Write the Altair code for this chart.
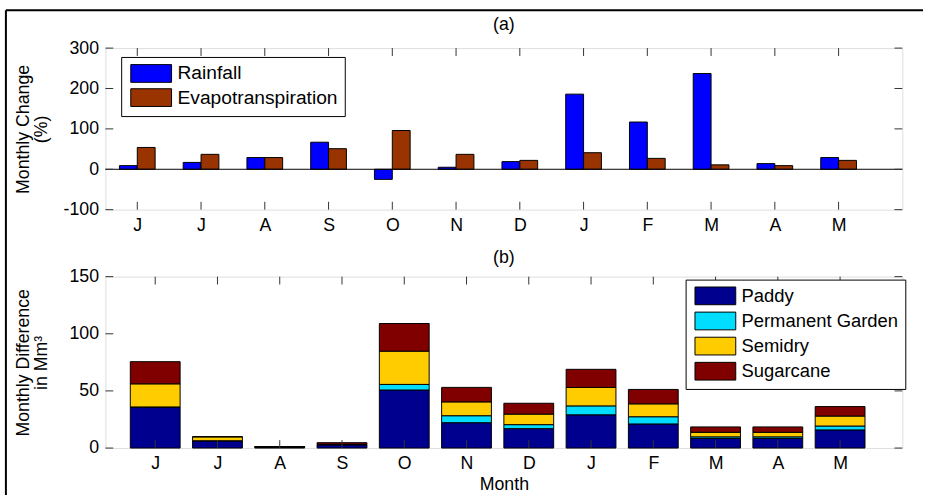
import altair as alt
import pandas as pd

# ---------------- data ----------------
months = ["J", "J", "A", "S", "O", "N", "D", "J", "F", "M", "A", "M"]

rainfall = [9, 17, 29, 67, -25, 5, 19, 186, 117, 237, 14, 29]
evapotranspiration = [54, 37, 29, 51, 96, 37, 22, 41, 27, 11, 9, 22]

paddy = [35.5, 6.3, 0.9, 2.9, 50.8, 22.2, 17.0, 29.1, 21.1, 8.4, 8.4, 15.9]
permanent_garden = [0.5, 0.1, 0.1, 0.1, 4.9, 6.1, 3.5, 7.8, 6.3, 1.4, 1.4, 3.4]
semidry = [20.2, 3.4, 0.2, 0.3, 29.1, 12.1, 9.2, 16.2, 11.3, 4.0, 4.0, 8.7]
sugarcane = [19.4, 0.2, 0.1, 1.4, 24.2, 12.7, 9.5, 15.8, 12.6, 4.7, 4.7, 8.3]

top_series = ["Rainfall", "Evapotranspiration"]
top_colors = ["#0000FF", "#993300"]
bottom_series = ["Paddy", "Permanent Garden", "Semidry", "Sugarcane"]
bottom_colors = ["#00008F", "#00DDFF", "#FFCC00", "#800000"]

top_yticks = [-100, 0, 100, 200, 300]
bottom_yticks = [0, 50, 100, 150]
month_ticks = list(range(1, 13))
panel_titles = ["(a)", "(b)"]

# ---------------- tables ----------------
HALF = 0.28
rows = []
for i, (r, e) in enumerate(zip(rainfall, evapotranspiration)):
    p = i + 1
    rows.append({"series": "Rainfall", "x0": p - HALF, "x1": p, "value": r, "base": 0})
    rows.append({"series": "Evapotranspiration", "x0": p, "x1": p + HALF, "value": e, "base": 0})
top_df = pd.DataFrame(rows)

rows = []
for i in range(12):
    p = i + 1
    acc = 0.0
    for name, vals in zip(bottom_series, [paddy, permanent_garden, semidry, sugarcane]):
        v = vals[i]
        rows.append({"series": name, "x0": p - 0.4, "x1": p + 0.4, "y0": acc, "y1": acc + v})
        acc += v
bottom_df = pd.DataFrame(rows)

# ---------------- styling ----------------
FONT = "Liberation Sans"
FS = 18
W = 809
H1 = 164
H2 = 174
TICK = 8
TICK_COLOR = "#333333"
label_expr = "[" + ",".join("'" + m + "'" for m in months) + "][round(datum.value) - 1]"
SWATCH = "M-2.3,-1 L2.3,-1 L2.3,1 L-2.3,1 Z"


def x_axis(title=None):
    kw = dict(values=month_ticks, labelExpr=label_expr, ticks=False, tickSize=0, domain=False,
              grid=False, labelPadding=7, labelFontSize=FS, labelFont=FONT, labelColor="black",
              labelFlush=False, labelOverlap=False, title=title)
    if title:
        kw.update(titleFontSize=FS, titleFont=FONT, titleFontWeight="normal", titleColor="black",
                  titlePadding=3)
    return alt.Axis(**kw)


def y_axis(vals, title, h):
    return alt.Axis(values=vals, ticks=False, tickSize=0, domain=False, grid=False,
                    labelExpr="'' + datum.value",
                    labelPadding=7, labelFontSize=FS, labelFont=FONT, labelColor="black",
                    title=title, titleFontSize=FS, titleFont=FONT, titleFontWeight="normal",
                    titleColor="black", titleX=-83, titleY=h / 2, titleAlign="center",
                    titleBaseline="middle", titleAngle=-90, titleLineHeight=18,
                    labelFlush=False)


def legend(x, y, fs, row_pad):
    return alt.Legend(title=None, orient="none", legendX=x, legendY=y, direction="vertical",
                      strokeColor="black", fillColor="white", padding=7, rowPadding=row_pad,
                      symbolType=SWATCH, symbolSize=324, symbolStrokeColor="black",
                      symbolStrokeWidth=1, symbolOffset=13.7, labelOffset=17,
                      labelFontSize=fs, labelFont=FONT, labelColor="black", labelLimit=400,
                      symbolOpacity=1)


def tick_layers(xdomain, ydomain, yvals, h):
    xs = pd.DataFrame({"t": month_ticks})
    ys = pd.DataFrame({"t": yvals})
    xsc = alt.Scale(domain=xdomain, nice=False, zero=False)
    ysc = alt.Scale(domain=ydomain, nice=False, zero=False)
    bx = alt.Chart(xs).mark_rule(color=TICK_COLOR, strokeWidth=1).encode(
        x=alt.X("t:Q", scale=xsc), y=alt.value(h), y2=alt.value(h - TICK))
    tx = alt.Chart(xs).mark_rule(color=TICK_COLOR, strokeWidth=1).encode(
        x=alt.X("t:Q", scale=xsc), y=alt.value(0), y2=alt.value(TICK))
    ly = alt.Chart(ys).mark_rule(color=TICK_COLOR, strokeWidth=1).encode(
        y=alt.Y("t:Q", scale=ysc), x=alt.value(0), x2=alt.value(TICK))
    ry = alt.Chart(ys).mark_rule(color=TICK_COLOR, strokeWidth=1).encode(
        y=alt.Y("t:Q", scale=ysc), x=alt.value(W), x2=alt.value(W - TICK))
    return [bx, tx, ly, ry]


def panel_title(text, dy):
    return alt.Chart(pd.DataFrame({"t": [text]})).mark_text(
        font=FONT, fontSize=FS, color="black", baseline="alphabetic", align="center"
    ).encode(x=alt.value(W / 2), y=alt.value(-dy), text="t:N")


one = pd.DataFrame({"z": [0]})

# ---------------- top panel ----------------
top_x = alt.Scale(domain=[0.5, 13], nice=False, zero=False)
top_y = alt.Scale(domain=[-100, 300], nice=False, zero=False)

top_bars = alt.Chart(top_df).mark_bar(stroke="black", strokeWidth=1).encode(
    x=alt.X("x0:Q", scale=top_x, axis=x_axis()),
    x2="x1:Q",
    y=alt.Y("value:Q", scale=top_y, stack=None,
            axis=y_axis(top_yticks, ["Monthly Change", "(%)"], H1)),
    y2="base:Q",
    color=alt.Color("series:N", scale=alt.Scale(domain=top_series, range=top_colors),
                    legend=legend(16, 9, 19.5, 1.5)),
)

zero_rule = alt.Chart(one).mark_rule(color="black", strokeWidth=1).encode(y=alt.datum(0))

frame_left = alt.Chart(one).mark_rule(color="black", strokeWidth=2).encode(
    x=alt.value(-101), y=alt.value(-38.5), y2=alt.value(460))
frame_top = alt.Chart(one).mark_rule(color="black", strokeWidth=2).encode(
    x=alt.value(-101), x2=alt.value(830), y=alt.value(-38.5))

top = alt.layer(
    top_bars, zero_rule, *tick_layers([0.5, 13], [-100, 300], top_yticks, H1),
    panel_title(panel_titles[0], 18), frame_left, frame_top,
).properties(width=W, height=H1)

# ---------------- bottom panel ----------------
bot_x = alt.Scale(domain=[0.2, 13], nice=False, zero=False)
bot_y = alt.Scale(domain=[0, 150], nice=False, zero=False)

bottom_bars = alt.Chart(bottom_df).mark_bar(stroke="black", strokeWidth=1).encode(
    x=alt.X("x0:Q", scale=bot_x, axis=x_axis("Month")),
    x2="x1:Q",
    y=alt.Y("y1:Q", scale=bot_y, stack=None,
            axis=y_axis(bottom_yticks, ["Monthly Difference", "in Mm³"], H2)),
    y2="y0:Q",
    color=alt.Color("series:N", scale=alt.Scale(domain=bottom_series, range=bottom_colors),
                    legend=legend(589, 3, 18.7, 2.5)),
    order=alt.Order("y0:Q"),
)

bottom = alt.layer(
    bottom_bars, *tick_layers([0.2, 13], [0, 150], bottom_yticks, H2),
    panel_title(panel_titles[1], 14),
).properties(width=W, height=H2)

chart = alt.vconcat(top, bottom, spacing=68, bounds="flush").resolve_scale(
    color="independent"
).properties(
    padding={"left": 4, "top": 5, "right": 0, "bottom": 0},
    background="white",
).configure_view(stroke="black", strokeWidth=1).configure(font=FONT)

chart.save("out.html", embed_options={"renderer": "svg", "actions": False})
